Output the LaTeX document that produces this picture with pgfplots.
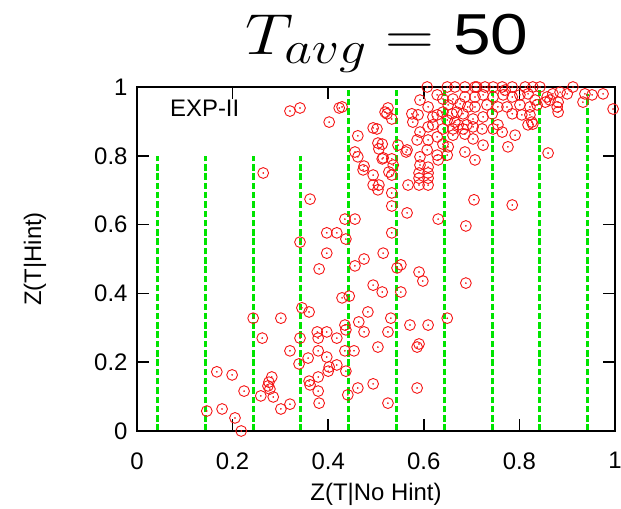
\RequirePackage{fix-cm}
\documentclass[border=0pt]{standalone}
\usepackage{fontspec}
\setmainfont{Liberation Sans}
\usepackage{graphicx}
\usepackage{pgfplots}
\pgfplotsset{compat=1.18}
\usepackage{pgfplotstable}
\DeclareMathSizes{58}{58}{46}{34}

\definecolor{ptred}{RGB}{245,20,20}
\definecolor{bingreen}{RGB}{0,228,0}

% Z(T|No Hint) against Z(T|Hint), one row per task
\pgfplotstableread{
x y
0.218 0.000
0.205 0.038
0.146 0.058
0.178 0.064
0.301 0.064
0.320 0.078
0.381 0.081
0.525 0.081
0.259 0.102
0.285 0.099
0.441 0.105
0.224 0.116
0.379 0.116
0.462 0.125
0.586 0.125
0.278 0.122
0.274 0.131
0.276 0.142
0.282 0.157
0.360 0.145
0.362 0.134
0.494 0.137
0.379 0.157
0.167 0.172
0.199 0.163
0.400 0.174
0.402 0.186
0.437 0.174
0.339 0.195
0.418 0.192
0.358 0.212
0.397 0.215
0.320 0.233
0.379 0.233
0.435 0.233
0.454 0.233
0.504 0.244
0.586 0.244
0.590 0.253
0.262 0.270
0.341 0.270
0.379 0.270
0.418 0.270
0.377 0.288
0.397 0.288
0.475 0.288
0.525 0.288
0.435 0.308
0.437 0.294
0.464 0.317
0.571 0.308
0.609 0.308
0.243 0.328
0.301 0.328
0.531 0.328
0.649 0.328
0.483 0.346
0.345 0.358
0.360 0.346
0.494 0.424
0.513 0.404
0.552 0.404
0.429 0.387
0.444 0.392
0.688 0.430
0.590 0.462
0.598 0.436
0.544 0.474
0.552 0.483
0.381 0.471
0.456 0.480
0.475 0.500
0.515 0.517
0.397 0.517
0.341 0.549
0.397 0.576
0.418 0.576
0.437 0.558
0.533 0.576
0.435 0.616
0.456 0.616
0.630 0.616
0.688 0.596
0.565 0.634
0.785 0.657
0.705 0.672
0.362 0.674
0.533 0.654
0.533 0.692
0.264 0.750
0.494 0.715
0.506 0.715
0.504 0.701
0.567 0.715
0.590 0.750
0.609 0.750
0.590 0.735
0.609 0.735
0.590 0.715
0.609 0.715
0.527 0.753
0.533 0.744
0.473 0.759
0.494 0.744
0.475 0.770
0.462 0.797
0.456 0.811
0.860 0.808
0.320 0.930
0.341 0.939
0.423 0.939
0.402 0.898
0.462 0.858
0.502 0.878
0.504 0.837
0.513 0.834
0.506 0.820
0.429 0.942
0.525 0.939
0.523 0.922
0.533 0.907
0.607 1.000
0.592 0.962
0.609 0.942
0.628 0.977
0.575 0.922
0.588 0.919
0.619 0.913
0.628 0.919
0.577 0.898
0.592 0.869
0.609 0.884
0.619 0.890
0.586 0.846
0.609 0.846
0.628 0.855
0.546 0.831
0.565 0.817
0.513 0.791
0.533 0.791
0.536 0.773
0.607 0.817
0.592 0.797
0.592 0.773
0.609 0.767
0.628 0.802
0.649 1.000
0.665 1.000
0.686 1.000
0.707 1.000
0.728 1.000
0.745 1.000
0.764 1.000
0.770 0.991
0.785 1.000
0.812 1.000
0.828 1.000
0.843 1.000
0.912 1.000
0.711 1.000
0.640 0.965
0.661 0.965
0.686 0.971
0.707 0.971
0.724 0.977
0.745 0.971
0.766 0.977
0.785 0.971
0.801 0.977
0.818 0.980
0.651 0.948
0.676 0.951
0.692 0.942
0.707 0.942
0.732 0.948
0.755 0.942
0.774 0.942
0.801 0.948
0.822 0.942
0.837 0.948
0.640 0.927
0.659 0.922
0.669 0.927
0.682 0.922
0.703 0.907
0.724 0.913
0.743 0.922
0.785 0.922
0.805 0.919
0.649 0.904
0.665 0.898
0.672 0.890
0.690 0.890
0.640 0.878
0.661 0.878
0.682 0.878
0.703 0.884
0.722 0.878
0.745 0.878
0.764 0.869
0.755 0.890
0.818 0.890
0.826 0.898
0.661 0.860
0.686 0.863
0.703 0.849
0.640 0.834
0.651 0.826
0.724 0.831
0.791 0.860
0.776 0.826
0.686 0.811
0.649 0.802
0.630 0.788
0.707 0.788
0.937 0.980
0.975 0.980
0.952 0.977
0.858 0.971
0.870 0.980
0.885 0.985
0.900 0.980
0.833 0.962
0.854 0.956
0.864 0.962
0.881 0.956
0.879 0.942
0.881 0.927
0.996 0.936
0.933 0.956
0.828 0.892
0.822 0.919
0.519 0.927
0.494 0.881
0.515 0.794
0.563 0.811
}\scatterdata

\begin{document}
\begin{tikzpicture}[x=1bp,y=1bp]
\path[use as bounding box] (0,0) rectangle (621,509);

\node[anchor=base, inner sep=0pt, font=\fontsize{58}{64}\selectfont] at (387,454)
  {\scalebox{1.17}[1]{$T_{avg} =$ 50}};

\begin{axis}[
  at={(137bp,78bp)}, anchor=south west,
  width=478bp, height=344bp, scale only axis,
  xmin=0, xmax=1, ymin=0, ymax=1,
  xtick={0,0.2,0.4,0.6,0.8,1},
  ytick={0,0.2,0.4,0.6,0.8,1},
  tick align=inside,
  major tick length=12bp,
  every tick/.style={black, line width=1.6bp},
  axis line style={black, line width=2.2bp},
  axis on top,
  clip=false,
  /pgf/number format/assume math mode=true,
  ticklabel style={font=\fontsize{24}{26}\selectfont},
  xticklabel style={yshift=-18bp},
  yticklabel style={xshift=-6bp},
  xlabel={Z(T|No Hint)},
  ylabel={Z(T|Hint)},
  label style={font=\fontsize{24}{26}\selectfont},
  xlabel style={at={(axis description cs:0.5,-0.184)}, anchor=center},
  ylabel style={at={(axis description cs:-0.2134,0.5)}, anchor=center, rotate=0},
]

% observations: open circle with a dot at its centre
\addplot[only marks, mark=o, mark size=5.4bp, ptred, mark options={line width=0.9bp}] table {\scatterdata};
\addplot[only marks, mark=*, mark size=0.6bp, ptred] table {\scatterdata};

% bin boundaries
\pgfplotsset{binline/.style={bingreen, line width=3bp, dash pattern=on 6.5bp off 2.8bp}}
\addplot[binline] coordinates {(0.043,0) (0.043,0.8)};
\addplot[binline] coordinates {(0.143,0) (0.143,0.8)};
\addplot[binline] coordinates {(0.243,0) (0.243,0.8)};
\addplot[binline] coordinates {(0.343,0) (0.343,0.8)};
\addplot[binline] coordinates {(0.443,0) (0.443,0.99)};
\addplot[binline] coordinates {(0.543,0) (0.543,0.99)};
\addplot[binline] coordinates {(0.643,0) (0.643,0.99)};
\addplot[binline] coordinates {(0.743,0) (0.743,0.99)};
\addplot[binline] coordinates {(0.843,0) (0.843,0.99)};
\addplot[binline] coordinates {(0.943,0) (0.943,0.98)};

\node[anchor=west, font=\fontsize{24}{26}\selectfont] at (axis cs:0.062,0.939) {EXP-II};
\end{axis}
\end{tikzpicture}
\end{document}
